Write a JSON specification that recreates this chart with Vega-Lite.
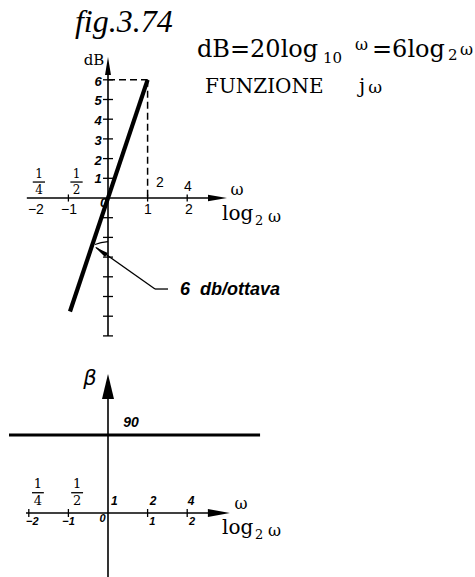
{
  "$schema": "https://vega.github.io/schema/vega-lite/v6.json",
  "background": "white",
  "padding": 0,
  "spacing": 0,
  "bounds": "flush",
  "config": {"view": {"stroke": null}},
  "datasets": {
    "magSegments": [
      {"part": "axis", "x": 0, "y": -7, "x2": 0, "y2": 6.6},
      {"part": "axis", "x": -2.05, "y": 0, "x2": 2.77, "y2": 0},
      {"part": "tick", "x": -0.126, "y": 6, "x2": 0.126, "y2": 6},
      {"part": "tick", "x": -0.126, "y": 5, "x2": 0.126, "y2": 5},
      {"part": "tick", "x": -0.126, "y": 4, "x2": 0.126, "y2": 4},
      {"part": "tick", "x": -0.126, "y": 3, "x2": 0.126, "y2": 3},
      {"part": "tick", "x": -0.126, "y": 2, "x2": 0.126, "y2": 2},
      {"part": "tick", "x": -0.126, "y": 1, "x2": 0.126, "y2": 1},
      {"part": "tick", "x": -0.126, "y": -1, "x2": 0.126, "y2": -1},
      {"part": "tick", "x": -0.126, "y": -2, "x2": 0.126, "y2": -2},
      {"part": "tick", "x": -0.126, "y": -3, "x2": 0.126, "y2": -3},
      {"part": "tick", "x": -0.126, "y": -4, "x2": 0.126, "y2": -4},
      {"part": "tick", "x": -0.126, "y": -5, "x2": 0.126, "y2": -5},
      {"part": "tick", "x": -0.126, "y": -6, "x2": 0.126, "y2": -6},
      {"part": "tick", "x": -0.126, "y": -7, "x2": 0.126, "y2": -7},
      {"part": "tick", "x": -1, "y": -0.18, "x2": -1, "y2": 0.18},
      {"part": "tick", "x": 1, "y": -0.18, "x2": 1, "y2": 0.18},
      {"part": "tick", "x": 2, "y": -0.18, "x2": 2, "y2": 0.18},
      {"part": "response", "x": 1, "y": 6, "x2": -0.96, "y2": -5.76},
      {"part": "guide", "x": 0, "y": 6, "x2": 1, "y2": 6},
      {"part": "guide", "x": 1, "y": 6, "x2": 1, "y2": 0},
      {"part": "leader", "x": -0.3, "y": -2.51, "x2": 1.187, "y2": -4.62},
      {"part": "leader", "x": 1.187, "y": -4.62, "x2": 1.515, "y2": -4.62},
      {"part": "arc", "x": -0.328, "y": -2.36, "x2": -0.177, "y2": -2.26},
      {"part": "arc", "x": -0.177, "y": -2.26, "x2": 0, "y2": -2.21},
      {"part": "bar", "x": -1.9, "y": 0.81, "x2": -1.59, "y2": 0.81},
      {"part": "bar", "x": -0.95, "y": 0.81, "x2": -0.64, "y2": 0.81}
    ],
    "magArrows": [
      {"kind": "yHead", "x": 0, "y": 6.7},
      {"kind": "xHead", "x": 2.765, "y": 0},
      {"kind": "leaderHead", "x": -0.185, "y": -2.69}
    ],
    "magText": [
      {"role": "title", "x": 0.4, "y": 8.43, "label": "fig.3.74"},
      {"role": "unit", "x": -0.354, "y": 6.75, "label": "dB"},
      {"role": "formula", "x": 2.247, "y": 7.157, "label": "dB=20log"},
      {"role": "formulaSub", "x": 5.43, "y": 6.853, "label": "10"},
      {"role": "formulaOmega", "x": 6.237, "y": 7.513, "label": "ω"},
      {"role": "formula", "x": 6.667, "y": 7.157, "label": "=6log"},
      {"role": "formulaSub", "x": 8.586, "y": 7.005, "label": "2"},
      {"role": "formulaOmega", "x": 8.889, "y": 7.26, "label": "ω"},
      {"role": "heading", "x": 2.45, "y": 5.33, "label": "FUNZIONE"},
      {"role": "heading", "x": 6.34, "y": 5.33, "label": "j"},
      {"role": "headingOmega", "x": 6.57, "y": 5.33, "label": "ω"},
      {"role": "dbTick", "x": -0.25, "y": 5.9, "label": "6"},
      {"role": "dbTick", "x": -0.25, "y": 4.9, "label": "5"},
      {"role": "dbTick", "x": -0.25, "y": 3.9, "label": "4"},
      {"role": "dbTick", "x": -0.25, "y": 2.9, "label": "3"},
      {"role": "dbTick", "x": -0.25, "y": 1.9, "label": "2"},
      {"role": "dbTick", "x": -0.25, "y": 0.95, "label": "1"},
      {"role": "logTick", "x": -1.82, "y": -0.61, "label": "−2"},
      {"role": "logTick", "x": -0.985, "y": -0.61, "label": "−1"},
      {"role": "logTick", "x": 1.01, "y": -0.61, "label": "1"},
      {"role": "logTick", "x": 2.045, "y": -0.61, "label": "2"},
      {"role": "origin", "x": -0.114, "y": -0.25, "label": "0"},
      {"role": "omegaTick", "x": 1.313, "y": 0.761, "label": "2"},
      {"role": "omegaTick", "x": 2.02, "y": 0.558, "label": "4"},
      {"role": "frac", "x": -1.74, "y": 1.2, "label": "1"},
      {"role": "frac", "x": -1.74, "y": 0.43, "label": "4"},
      {"role": "frac", "x": -0.795, "y": 1.2, "label": "1"},
      {"role": "frac", "x": -0.795, "y": 0.43, "label": "2"},
      {"role": "omega", "x": 3.26, "y": 0.41, "label": "ω"},
      {"role": "logWord", "x": 2.879, "y": -1.117, "label": "log"},
      {"role": "logSub", "x": 3.712, "y": -1.37, "label": "2"},
      {"role": "logOmega", "x": 4.04, "y": -1.218, "label": "ω"},
      {"role": "note", "x": 1.818, "y": -4.67, "label": "6"},
      {"role": "note", "x": 2.323, "y": -4.67, "label": "db/ottava"}
    ],
    "phaseSegments": [
      {"part": "axis", "x": 0, "y": -73.8, "x2": 0, "y2": 146},
      {"part": "axis", "x": -2.07, "y": 0, "x2": 2.8, "y2": 0},
      {"part": "tick", "x": -2, "y": -4.6, "x2": -2, "y2": 4.6},
      {"part": "tick", "x": -1, "y": -4.6, "x2": -1, "y2": 4.6},
      {"part": "tick", "x": 1, "y": -4.6, "x2": 1, "y2": 4.6},
      {"part": "tick", "x": 2, "y": -4.6, "x2": 2, "y2": 4.6},
      {"part": "phase", "x": -2.5, "y": 90, "x2": 3.84, "y2": 90},
      {"part": "bar", "x": -1.92, "y": 23.4, "x2": -1.62, "y2": 23.4},
      {"part": "bar", "x": -0.93, "y": 23.4, "x2": -0.63, "y2": 23.4}
    ],
    "phaseArrows": [
      {"kind": "yHead", "x": 0, "y": 146},
      {"kind": "xHead", "x": 2.8, "y": 0}
    ],
    "phaseText": [
      {"role": "beta", "x": -0.455, "y": 154.6, "label": "β"},
      {"role": "value", "x": 0.58, "y": 103.8, "label": "90"},
      {"role": "logTick", "x": -1.91, "y": -10.4, "label": "−2"},
      {"role": "logTick", "x": -0.997, "y": -10.4, "label": "−1"},
      {"role": "logTick", "x": 1.12, "y": -10.4, "label": "1"},
      {"role": "logTick", "x": 2.12, "y": -10.4, "label": "2"},
      {"role": "origin", "x": -0.14, "y": -6.9, "label": "0"},
      {"role": "omegaTick", "x": 0.16, "y": 13.8, "label": "1"},
      {"role": "omegaTick", "x": 1.14, "y": 13.8, "label": "2"},
      {"role": "omegaTick", "x": 2.1, "y": 13.8, "label": "4"},
      {"role": "frac", "x": -1.77, "y": 33, "label": "1"},
      {"role": "frac", "x": -1.77, "y": 14.3, "label": "4"},
      {"role": "frac", "x": -0.78, "y": 33, "label": "1"},
      {"role": "frac", "x": -0.78, "y": 14.3, "label": "2"},
      {"role": "omega", "x": 3.36, "y": 10.4, "label": "ω"},
      {"role": "logWord", "x": 2.879, "y": -24.2, "label": "log"},
      {"role": "logSub", "x": 3.712, "y": -30, "label": "2"},
      {"role": "logOmega", "x": 4.04, "y": -26.5, "label": "ω"}
    ]
  },
  "vconcat": [
    {
      "width": 475,
      "height": 350,
      "encoding": {
        "x": {"field": "x", "type": "quantitative", "scale": {"domain": [-2.7273, 9.2677], "nice": false, "zero": false}, "axis": null},
        "y": {"field": "y", "type": "quantitative", "scale": {"domain": [-7.7157, 10.0508], "nice": false, "zero": false}, "axis": null}
      },
      "layer": [
        {"data": {"name": "magSegments"}, "transform": [{"filter": "datum.part === 'axis'"}], "mark": {"type": "rule", "color": "#000", "strokeWidth": 1.6}, "encoding": {"x2": {"field": "x2"}, "y2": {"field": "y2"}}},
        {"data": {"name": "magSegments"}, "transform": [{"filter": "datum.part === 'tick'"}], "mark": {"type": "rule", "color": "#000", "strokeWidth": 1.3}, "encoding": {"x2": {"field": "x2"}, "y2": {"field": "y2"}}},
        {"data": {"name": "magSegments"}, "transform": [{"filter": "datum.part === 'guide'"}], "mark": {"type": "rule", "color": "#000", "strokeWidth": 1.5, "strokeDash": [7, 4]}, "encoding": {"x2": {"field": "x2"}, "y2": {"field": "y2"}}},
        {"data": {"name": "magSegments"}, "transform": [{"filter": "datum.part === 'response'"}], "mark": {"type": "rule", "color": "#000", "strokeWidth": 4.2, "strokeCap": "butt"}, "encoding": {"x2": {"field": "x2"}, "y2": {"field": "y2"}}},
        {"data": {"name": "magSegments"}, "transform": [{"filter": "datum.part === 'leader' || datum.part === 'arc' || datum.part === 'bar'"}], "mark": {"type": "rule", "color": "#000", "strokeWidth": 1.3}, "encoding": {"x2": {"field": "x2"}, "y2": {"field": "y2"}}},
        {"data": {"name": "magArrows"}, "transform": [{"filter": "datum.kind === 'yHead'"}], "mark": {"type": "point", "shape": "M0,-1L0.33,1L-0.33,1Z", "size": 324, "filled": true, "color": "#000", "opacity": 1, "strokeWidth": 0}},
        {"data": {"name": "magArrows"}, "transform": [{"filter": "datum.kind === 'xHead'"}], "mark": {"type": "point", "shape": "M1,0L-1,-0.35L-1,0.35Z", "size": 361, "filled": true, "color": "#000", "opacity": 1, "strokeWidth": 0}},
        {"data": {"name": "magArrows"}, "transform": [{"filter": "datum.kind === 'leaderHead'"}], "mark": {"type": "point", "shape": "M0,-1L0.35,1L-0.35,1Z", "size": 196, "angle": 305, "filled": true, "color": "#000", "opacity": 1, "strokeWidth": 0}},
        {"data": {"name": "magText"}, "transform": [{"filter": "datum.role === 'title'"}], "mark": {"type": "text", "font": "Liberation Serif", "fontStyle": "italic", "fontSize": 32, "align": "center", "baseline": "alphabetic", "color": "#000"}, "encoding": {"text": {"field": "label"}}},
        {"data": {"name": "magText"}, "transform": [{"filter": "datum.role === 'unit'"}], "mark": {"type": "text", "font": "DejaVu Serif", "fontSize": 15, "align": "center", "baseline": "alphabetic", "color": "#000"}, "encoding": {"text": {"field": "label"}}},
        {"data": {"name": "magText"}, "transform": [{"filter": "datum.role === 'formula'"}], "mark": {"type": "text", "font": "DejaVu Serif", "fontSize": 24, "align": "left", "baseline": "alphabetic", "color": "#000"}, "encoding": {"text": {"field": "label"}}},
        {"data": {"name": "magText"}, "transform": [{"filter": "datum.role === 'formulaSub'"}], "mark": {"type": "text", "font": "DejaVu Serif", "fontSize": 15, "align": "left", "baseline": "alphabetic", "color": "#000"}, "encoding": {"text": {"field": "label"}}},
        {"data": {"name": "magText"}, "transform": [{"filter": "datum.role === 'formulaOmega'"}], "mark": {"type": "text", "font": "DejaVu Serif", "fontSize": 16, "align": "left", "baseline": "alphabetic", "color": "#000"}, "encoding": {"text": {"field": "label"}}},
        {"data": {"name": "magText"}, "transform": [{"filter": "datum.role === 'heading'"}], "mark": {"type": "text", "font": "DejaVu Serif", "fontSize": 20, "align": "left", "baseline": "alphabetic", "color": "#000"}, "encoding": {"text": {"field": "label"}}},
        {"data": {"name": "magText"}, "transform": [{"filter": "datum.role === 'headingOmega'"}], "mark": {"type": "text", "font": "DejaVu Serif", "fontSize": 17, "align": "left", "baseline": "alphabetic", "color": "#000"}, "encoding": {"text": {"field": "label"}}},
        {"data": {"name": "magText"}, "transform": [{"filter": "datum.role === 'dbTick' || datum.role === 'origin'"}], "mark": {"type": "text", "font": "Liberation Sans", "fontStyle": "italic", "fontWeight": "bold", "fontSize": 13, "align": "center", "baseline": "middle", "color": "#000"}, "encoding": {"text": {"field": "label"}}},
        {"data": {"name": "magText"}, "transform": [{"filter": "datum.role === 'logTick' || datum.role === 'omegaTick'"}], "mark": {"type": "text", "font": "Liberation Sans", "fontSize": 14, "align": "center", "baseline": "middle", "color": "#000"}, "encoding": {"text": {"field": "label"}}},
        {"data": {"name": "magText"}, "transform": [{"filter": "datum.role === 'frac'"}], "mark": {"type": "text", "font": "DejaVu Serif", "fontSize": 12, "align": "center", "baseline": "middle", "color": "#000"}, "encoding": {"text": {"field": "label"}}},
        {"data": {"name": "magText"}, "transform": [{"filter": "datum.role === 'omega'"}], "mark": {"type": "text", "font": "DejaVu Serif", "fontSize": 16, "align": "center", "baseline": "middle", "color": "#000"}, "encoding": {"text": {"field": "label"}}},
        {"data": {"name": "magText"}, "transform": [{"filter": "datum.role === 'logWord'"}], "mark": {"type": "text", "font": "DejaVu Serif", "fontSize": 20, "align": "left", "baseline": "alphabetic", "color": "#000"}, "encoding": {"text": {"field": "label"}}},
        {"data": {"name": "magText"}, "transform": [{"filter": "datum.role === 'logSub'"}], "mark": {"type": "text", "font": "DejaVu Serif", "fontSize": 13, "align": "left", "baseline": "alphabetic", "color": "#000"}, "encoding": {"text": {"field": "label"}}},
        {"data": {"name": "magText"}, "transform": [{"filter": "datum.role === 'logOmega'"}], "mark": {"type": "text", "font": "DejaVu Serif", "fontSize": 16, "align": "left", "baseline": "alphabetic", "color": "#000"}, "encoding": {"text": {"field": "label"}}},
        {"data": {"name": "magText"}, "transform": [{"filter": "datum.role === 'note'"}], "mark": {"type": "text", "font": "Liberation Sans", "fontStyle": "italic", "fontWeight": "bold", "fontSize": 18, "align": "left", "baseline": "middle", "color": "#000"}, "encoding": {"text": {"field": "label"}}}
      ]
    },
    {
      "width": 475,
      "height": 227,
      "encoding": {
        "x": {"field": "x", "type": "quantitative", "scale": {"domain": [-2.7273, 9.2677], "nice": false, "zero": false}, "axis": null},
        "y": {"field": "y", "type": "quantitative", "scale": {"domain": [-73.85, 188.08], "nice": false, "zero": false}, "axis": null}
      },
      "layer": [
        {"data": {"name": "phaseSegments"}, "transform": [{"filter": "datum.part === 'axis'"}], "mark": {"type": "rule", "color": "#000", "strokeWidth": 1.6}, "encoding": {"x2": {"field": "x2"}, "y2": {"field": "y2"}}},
        {"data": {"name": "phaseSegments"}, "transform": [{"filter": "datum.part === 'tick' || datum.part === 'bar'"}], "mark": {"type": "rule", "color": "#000", "strokeWidth": 1.3}, "encoding": {"x2": {"field": "x2"}, "y2": {"field": "y2"}}},
        {"data": {"name": "phaseSegments"}, "transform": [{"filter": "datum.part === 'phase'"}], "mark": {"type": "rule", "color": "#000", "strokeWidth": 3.2, "strokeCap": "butt"}, "encoding": {"x2": {"field": "x2"}, "y2": {"field": "y2"}}},
        {"data": {"name": "phaseArrows"}, "transform": [{"filter": "datum.kind === 'yHead'"}], "mark": {"type": "point", "shape": "M0,-1L0.48,1L-0.48,1Z", "size": 625, "filled": true, "color": "#000", "opacity": 1, "strokeWidth": 0}},
        {"data": {"name": "phaseArrows"}, "transform": [{"filter": "datum.kind === 'xHead'"}], "mark": {"type": "point", "shape": "M1,0L-1,-0.36L-1,0.36Z", "size": 484, "filled": true, "color": "#000", "opacity": 1, "strokeWidth": 0}},
        {"data": {"name": "phaseText"}, "transform": [{"filter": "datum.role === 'beta'"}], "mark": {"type": "text", "font": "DejaVu Sans", "fontStyle": "italic", "fontSize": 21, "align": "center", "baseline": "middle", "color": "#000"}, "encoding": {"text": {"field": "label"}}},
        {"data": {"name": "phaseText"}, "transform": [{"filter": "datum.role === 'value'"}], "mark": {"type": "text", "font": "Liberation Sans", "fontStyle": "italic", "fontWeight": "bold", "fontSize": 14, "align": "center", "baseline": "middle", "color": "#000"}, "encoding": {"text": {"field": "label"}}},
        {"data": {"name": "phaseText"}, "transform": [{"filter": "datum.role === 'logTick' || datum.role === 'origin'"}], "mark": {"type": "text", "font": "Liberation Sans", "fontStyle": "italic", "fontWeight": "bold", "fontSize": 11, "align": "center", "baseline": "middle", "color": "#000"}, "encoding": {"text": {"field": "label"}}},
        {"data": {"name": "phaseText"}, "transform": [{"filter": "datum.role === 'omegaTick'"}], "mark": {"type": "text", "font": "Liberation Sans", "fontStyle": "italic", "fontWeight": "bold", "fontSize": 12, "align": "center", "baseline": "middle", "color": "#000"}, "encoding": {"text": {"field": "label"}}},
        {"data": {"name": "phaseText"}, "transform": [{"filter": "datum.role === 'frac'"}], "mark": {"type": "text", "font": "DejaVu Serif", "fontSize": 13, "align": "center", "baseline": "middle", "color": "#000"}, "encoding": {"text": {"field": "label"}}},
        {"data": {"name": "phaseText"}, "transform": [{"filter": "datum.role === 'omega'"}], "mark": {"type": "text", "font": "DejaVu Serif", "fontSize": 16, "align": "center", "baseline": "middle", "color": "#000"}, "encoding": {"text": {"field": "label"}}},
        {"data": {"name": "phaseText"}, "transform": [{"filter": "datum.role === 'logWord'"}], "mark": {"type": "text", "font": "DejaVu Serif", "fontSize": 20, "align": "left", "baseline": "alphabetic", "color": "#000"}, "encoding": {"text": {"field": "label"}}},
        {"data": {"name": "phaseText"}, "transform": [{"filter": "datum.role === 'logSub'"}], "mark": {"type": "text", "font": "DejaVu Serif", "fontSize": 13, "align": "left", "baseline": "alphabetic", "color": "#000"}, "encoding": {"text": {"field": "label"}}},
        {"data": {"name": "phaseText"}, "transform": [{"filter": "datum.role === 'logOmega'"}], "mark": {"type": "text", "font": "DejaVu Serif", "fontSize": 16, "align": "left", "baseline": "alphabetic", "color": "#000"}, "encoding": {"text": {"field": "label"}}}
      ]
    }
  ]
}
